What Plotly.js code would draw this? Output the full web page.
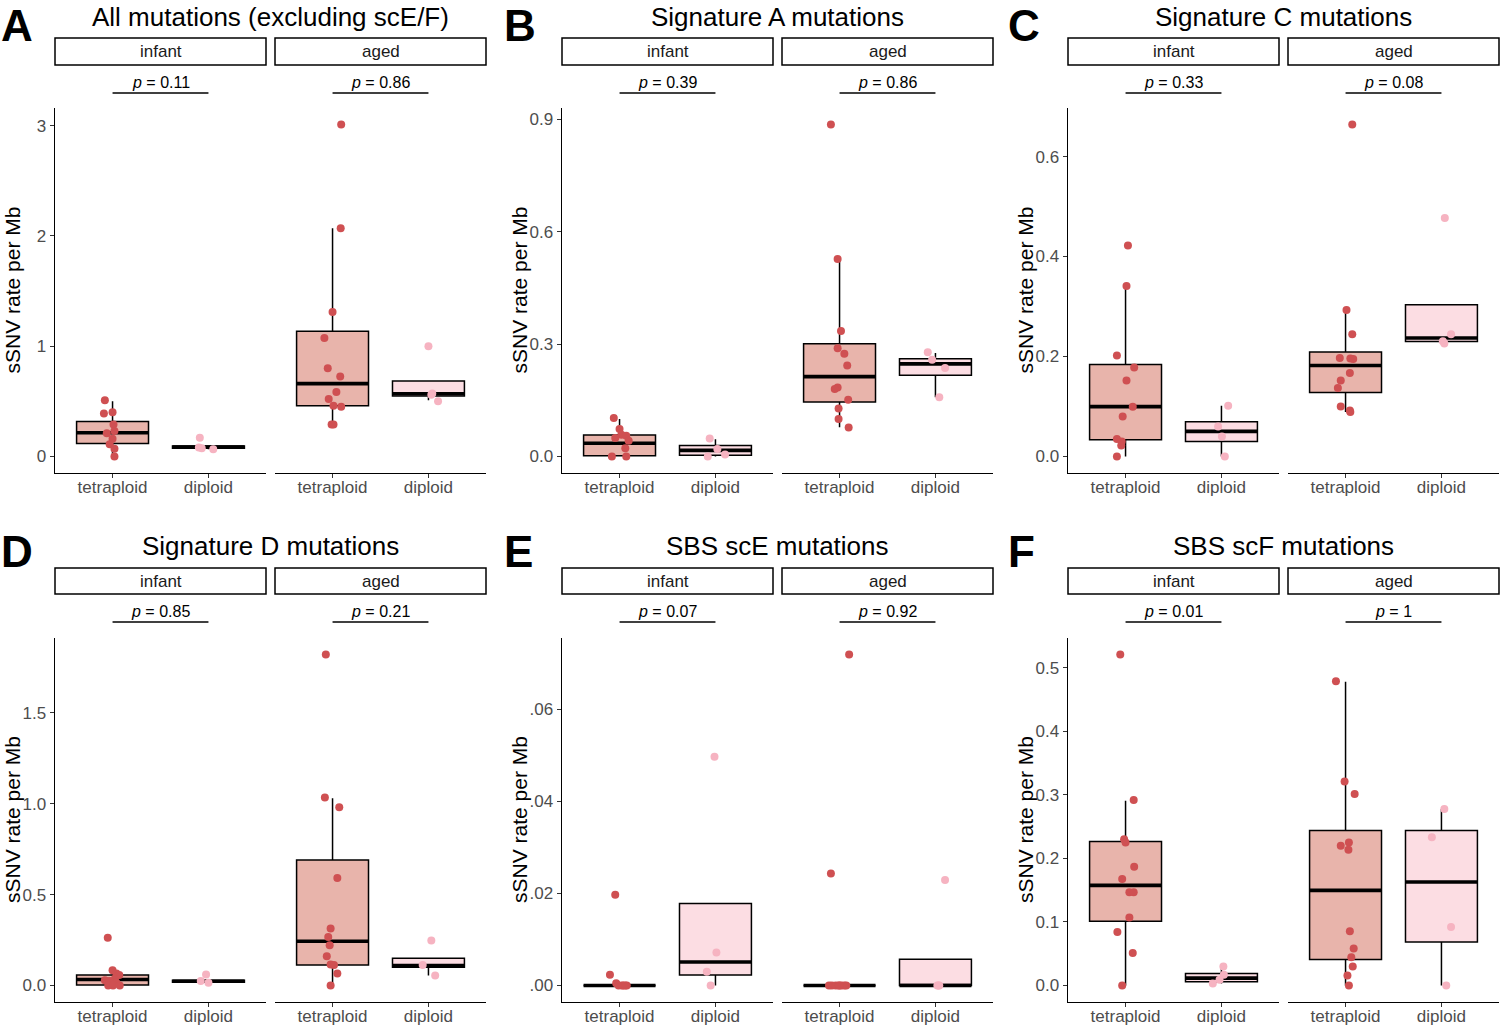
<!DOCTYPE html>
<html><head><meta charset="utf-8">
<script src="https://cdn.plot.ly/plotly-3.0.1.min.js"></script>
<style>html,body{margin:0;padding:0;background:#fff}#chart{width:1500px;height:1026px}</style>
</head><body><div id="chart"></div>
<script>
// ---------- DATA ----------
const panelLetters = ['A','B','C','D','E','F'];
const panelTitles = ['All mutations (excluding scE/F)','Signature A mutations','Signature C mutations',
                     'Signature D mutations','SBS scE mutations','SBS scF mutations'];
const facetLabels = ['infant','aged'];
const groupLabels = ['tetraploid','diploid'];
const pValues = [['0.11','0.86'],['0.39','0.86'],['0.33','0.08'],['0.85','0.21'],['0.07','0.92'],['0.01','1']];
const yTickVals = [[0,1,2,3],[0,0.3,0.6,0.9],[0,0.2,0.4,0.6],[0,0.5,1,1.5],[0,0.02,0.04,0.06],[0,0.1,0.2,0.3,0.4,0.5]];
const yTickText = [['0','1','2','3'],['0.0','0.3','0.6','0.9'],['0.0','0.2','0.4','0.6'],['0.0','0.5','1.0','1.5'],
                   ['.00','.02','.04','.06'],['0.0','0.1','0.2','0.3','0.4','0.5']];
const yTitle = 'sSNV rate per Mb';

// group order in each panel: [infant tetraploid, infant diploid, aged tetraploid, aged diploid]
// rate = sSNV rate per Mb of each cell; jitter = horizontal jitter read for each dot
// box = [lower whisker, Q1, median, Q3, upper whisker]
const rateA = [[0.51,0.40,0.39,0.29,0.23,0.21,0.16,0.11,0.07,0.00],
               [0.17,0.08,0.075,0.065],
               [3.01,2.07,1.31,1.075,0.80,0.725,0.585,0.52,0.46,0.45,0.29,0.29],
               [1.00,0.57,0.56,0.50]];
const jitterA = [[-0.08,0.00,-0.09,0.01,0.02,-0.06,0.00,-0.03,0.02,0.02],
                 [-0.09,-0.10,-0.07,0.05],
                 [0.09,0.085,0.0,-0.085,-0.05,0.08,0.04,-0.04,0.01,0.09,-0.01,0.01],
                 [0.0,0.04,0.03,0.10]];
const boxA = [[0,0.118,0.215,0.317,0.50],[0.065,0.075,0.085,0.095,0.095],
              [0.29,0.46,0.66,1.136,2.07],[0.51,0.547,0.568,0.683,0.683]];

const rateB = [[0.1025,0.073,0.058,0.055,0.049,0.042,0.022,0.0,0.0],
               [0.048,0.02,0.0,0.005],
               [0.886,0.527,0.335,0.289,0.274,0.243,0.184,0.18,0.151,0.128,0.10,0.0775],
               [0.278,0.258,0.236,0.158]];
const jitterB = [[-0.06,0.0,0.02,0.07,-0.045,0.095,0.06,-0.08,0.07],
                 [-0.06,0.02,-0.08,0.10],
                 [-0.09,-0.02,0.015,-0.02,0.05,0.08,-0.02,-0.05,0.09,-0.01,-0.01,0.095],
                 [-0.08,-0.035,0.10,0.04]];
const boxB = [[0,0.002,0.035,0.057,0.10],[0,0.003,0.016,0.029,0.046],
              [0.078,0.145,0.213,0.301,0.527],[0.158,0.2165,0.247,0.261,0.276]];

const rateC = [[0.422,0.341,0.202,0.178,0.152,0.0996,0.080,0.035,0.030,0.022,0.0],
               [0.1016,0.060,0.040,0.0],
               [0.664,0.293,0.2445,0.197,0.196,0.195,0.167,0.152,0.137,0.100,0.092,0.089],
               [0.477,0.2445,0.2305,0.226]];
const jitterC = [[0.025,0.01,-0.09,0.09,0.01,0.075,-0.03,-0.09,-0.04,-0.045,-0.09],
                 [0.07,-0.035,0.005,0.035],
                 [0.07,0.01,0.07,-0.06,0.05,0.08,0.045,-0.05,-0.08,-0.05,0.045,0.05],
                 [0.035,0.10,0.015,0.03]];
const boxC = [[0,0.0334,0.0996,0.184,0.341],[0,0.030,0.050,0.0695,0.1016],
              [0.089,0.128,0.182,0.209,0.29],[0.226,0.23,0.237,0.3033,0.3033]];

const rateD = [[0.262,0.084,0.066,0.057,0.037,0.029,0.024,0.015,0.0,0.0,0.0],
               [0.060,0.024,0.015],
               [1.82,1.034,0.98,0.591,0.313,0.267,0.221,0.161,0.115,0.112,0.066,0.0],
               [0.247,0.112,0.055]];
const jitterD = [[-0.05,0.0,0.04,0.07,0.025,-0.08,-0.03,0.04,-0.045,0.005,0.075],
                 [-0.025,-0.08,0.0],
                 [-0.07,-0.08,0.07,0.05,-0.02,-0.045,-0.03,-0.06,-0.02,0.015,0.05,-0.02],
                 [0.03,-0.06,0.07]];
const boxD = [[0,0.002,0.033,0.057,0.084],[0.015,0.017,0.023,0.029,0.029],
              [0,0.112,0.243,0.69,1.03],[0.055,0.10,0.11,0.15,0.15]];

const rateE = [[0.0197,0.0023,0.0005,0,0,0,0,0],
               [0.0497,0.00716,0.003,0.0],
               [0.0719,0.0243,0,0,0,0,0,0,0,0],
               [0.0229,0,0,0]];
const jitterE = [[-0.045,-0.10,-0.035,-0.01,0.025,0.04,0.075,0.06],
                 [-0.01,0.01,-0.09,-0.05],
                 [0.10,-0.09,-0.11,-0.08,-0.04,-0.01,0.02,0.05,0.07,0.0],
                 [0.10,0.03,0.02,0.04]];
const boxE = [[0,0,0,0,0],[0,0.00225,0.0051,0.0178,0.0178],
              [0,0,0,0,0],[0,0,0,0.0057,0.0057]];

const rateF = [[0.521,0.292,0.230,0.225,0.187,0.1675,0.1466,0.1466,0.107,0.084,0.051,0.0],
               [0.030,0.017,0.009,0.003],
               [0.479,0.321,0.3016,0.225,0.22,0.2136,0.0853,0.058,0.0445,0.030,0.0157,0.0],
               [0.278,0.2335,0.092,0.0]];
const jitterF = [[-0.055,0.085,-0.015,0.0,0.09,-0.035,0.04,0.085,0.04,-0.085,0.075,-0.035],
                 [0.02,0.025,-0.02,-0.09],
                 [-0.1,-0.01,0.095,0.035,-0.05,0.03,0.045,0.085,0.06,0.075,0.02,0.035],
                 [0.03,-0.1,0.1,0.05]];
const boxF = [[0,0.101,0.1576,0.2267,0.291],[0.003,0.006,0.0115,0.019,0.03],
              [0,0.041,0.1497,0.244,0.478],[0,0.0686,0.163,0.244,0.278]];

// ---------- STYLE / GEOMETRY ----------
const W = 1500, H = 1026;
const FONT = 'Liberation Sans, Arial, Helvetica, sans-serif';
const boxFill = ['#E8B4AB', '#FCDDE3'];
const dotColor = ['#CF5052', '#F6B3C1'];
const BOX_W = 0.75;
const colStarts = [55, 562, 1068];
const facetW = 211, facetGap = 9;
const rowTop = [108, 638], rowBottom = [473, 1002];
const titleY = [17, 546], stripTop = [38, 568], stripBot = [65, 594];
const pTextY = [83, 611], pLineY = [93, 622];
const letterX = [0, 503, 1007], letterTop = [0, 526];

const panels = [
  {rate: rateA, jit: jitterA, box: boxA}, {rate: rateB, jit: jitterB, box: boxB},
  {rate: rateC, jit: jitterC, box: boxC}, {rate: rateD, jit: jitterD, box: boxD},
  {rate: rateE, jit: jitterE, box: boxE}, {rate: rateF, jit: jitterF, box: boxF}
];

const py = v => 1 - v / H, px = v => v / W;
const traces = [], shapes = [], annotations = [];
const layout = {
  width: W, height: H, margin: {l:0, r:0, t:0, b:0},
  paper_bgcolor: '#fff', plot_bgcolor: 'rgba(0,0,0,0)',
  showlegend: false, boxmode: 'overlay', font: {family: FONT, color: '#000'}
};

panels.forEach((p, pi) => {
  const col = pi % 3, row = Math.floor(pi / 3);
  const yId = pi === 0 ? 'y' : 'y' + (pi + 1);
  const yKey = pi === 0 ? 'yaxis' : 'yaxis' + (pi + 1);
  const firstX = (2 * pi + 1) === 1 ? 'x' : 'x' + (2 * pi + 1);
  const all = [].concat(...p.rate, ...p.box);
  const mn = Math.min(...all), mx = Math.max(...all), pad = (mx - mn) * 0.05;
  layout[yKey] = {
    domain: [py(rowBottom[row]), py(rowTop[row])], range: [mn - pad, mx + pad], anchor: firstX,
    showline: true, linecolor: '#000', linewidth: 1.4, showgrid: false, zeroline: false,
    ticks: 'outside', ticklen: 4, tickwidth: 1.1, tickcolor: '#333',
    tickvals: yTickVals[pi], ticktext: yTickText[pi],
    tickfont: {family: FONT, size: 17, color: '#4D4D4D'}, fixedrange: true
  };
  // panel title, letter, y-axis title
  const cx = colStarts[col] + (2 * facetW + facetGap) / 2;
  annotations.push({xref:'paper', yref:'paper', x: px(cx), y: py(titleY[row]), text: panelTitles[pi],
    showarrow:false, xanchor:'center', yanchor:'middle', font:{family:FONT, size:26, color:'#000'}});
  annotations.push({xref:'paper', yref:'paper', x: px(letterX[col]), y: py(letterTop[row]), text: '<b>' + panelLetters[pi] + '</b>',
    showarrow:false, xanchor:'left', yanchor:'top', borderpad: 0, font:{family:FONT, size:44, color:'#000'}});
  annotations.push({xref:'paper', yref:'paper', x: px(colStarts[col] - 43), y: py((rowTop[row] + rowBottom[row]) / 2),
    text: yTitle, textangle: -90, showarrow:false, xanchor:'center', yanchor:'middle',
    font:{family:FONT, size:21, color:'#000'}});

  for (let f = 0; f < 2; f++) {
    const xn = 2 * pi + f + 1;
    const xId = xn === 1 ? 'x' : 'x' + xn;
    const xKey = xn === 1 ? 'xaxis' : 'xaxis' + xn;
    const x0 = colStarts[col] + f * (facetW + facetGap);
    layout[xKey] = {
      domain: [px(x0), px(x0 + facetW)], range: [-0.6, 1.6], anchor: yId,
      showline: true, linecolor: '#000', linewidth: 1.4, showgrid: false, zeroline: false,
      ticks: 'outside', ticklen: 4, tickwidth: 1.1, tickcolor: '#333',
      tickvals: [0, 1], ticktext: groupLabels, ticklabelstandoff: -6,
      tickfont: {family: FONT, size: 17, color: '#4D4D4D'}, fixedrange: true
    };
    // strip
    shapes.push({type:'rect', xref: xId + ' domain', yref:'paper', x0: 0, x1: 1,
      y0: py(stripBot[row]), y1: py(stripTop[row]), line:{color:'#000', width:1.5}, fillcolor:'#fff', layer:'below'});
    annotations.push({xref: xId + ' domain', yref:'paper', x: 0.5, y: py((stripTop[row] + stripBot[row]) / 2),
      text: facetLabels[f], showarrow:false, xanchor:'center', yanchor:'middle',
      font:{family:FONT, size:17, color:'#1A1A1A'}});
    // p value bracket
    shapes.push({type:'line', xref: xId, yref:'paper', x0: 0, x1: 1, y0: py(pLineY[row]), y1: py(pLineY[row]),
      line:{color:'#000', width:1.5}});
    annotations.push({xref: xId, yref:'paper', x: 0.5, y: py(pTextY[row]),
      text: '<i>p</i> = ' + pValues[pi][f], showarrow:false, xanchor:'center', yanchor:'middle',
      font:{family:FONT, size:16, color:'#000'}});

    for (let g = 0; g < 2; g++) {
      const gi = f * 2 + g;
      const [lo, q1, med, q3, hi] = p.box[gi];
      traces.push({type:'box', x:[g], q1:[q1], median:[med], q3:[q3], lowerfence:[lo], upperfence:[hi],
        width: BOX_W, whiskerwidth: 0, boxpoints: false, fillcolor: boxFill[g],
        line:{color:'#000', width:1.5}, xaxis: xId, yaxis: yId, hoverinfo:'skip'});
      traces.push({type:'scatter', mode:'lines', x:[g - BOX_W / 2, g + BOX_W / 2], y:[med, med],
        line:{color:'#000', width:3.6}, xaxis: xId, yaxis: yId, hoverinfo:'skip'});
    }
    for (let g = 0; g < 2; g++) {
      const gi = f * 2 + g;
      traces.push({type:'scatter', mode:'markers', x: p.jit[gi].map(j => g + j), y: p.rate[gi],
        marker:{color: dotColor[g], size: 8, line:{width:0}}, xaxis: xId, yaxis: yId, hoverinfo:'skip'});
    }
  }
});

layout.shapes = shapes;
layout.annotations = annotations;
Plotly.newPlot('chart', traces, layout, {displayModeBar: false, staticPlot: true});
</script>
</body></html>
